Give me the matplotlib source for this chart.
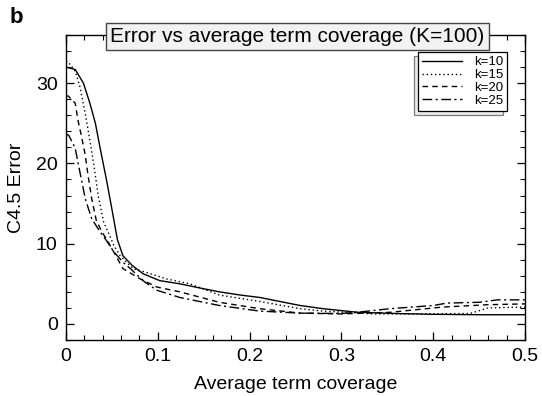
import matplotlib
matplotlib.use("Agg")
import matplotlib.pyplot as plt
from matplotlib.ticker import MultipleLocator, FuncFormatter

plt.rcParams['font.family'] = ['Liberation Sans', 'DejaVu Sans']

# values
x_k10 = [0, 0.01, 0.019, 0.026, 0.032, 0.037, 0.044, 0.05, 0.056, 0.062, 0.072, 0.084,
         0.102, 0.124, 0.145, 0.167, 0.19, 0.211, 0.233, 0.255, 0.28, 0.317, 0.36, 0.4, 0.45, 0.5]
y_k10 = [32.0, 31.7, 30.0, 27.5, 25.0, 22.0, 18.0, 14.3, 10.5, 8.5, 7.3, 6.25,
         5.4, 5.0, 4.5, 4.0, 3.6, 3.3, 2.8, 2.3, 1.9, 1.46, 1.3, 1.2, 1.15, 1.15]

x_k15 = [0, 0.002, 0.01, 0.015, 0.021, 0.028, 0.032, 0.035, 0.041, 0.048, 0.052, 0.059, 0.073,
         0.088, 0.11, 0.135, 0.167, 0.211, 0.255, 0.28, 0.335, 0.39, 0.44, 0.46, 0.5]
y_k15 = [32.7, 32.7, 31.5, 29.6, 26.2, 21.5, 18.5, 16.0, 12.7, 10.9, 9.8, 8.5, 6.9,
         6.4, 5.6, 5.0, 3.6, 2.8, 1.9, 1.6, 1.25, 1.25, 1.3, 2.0, 2.1]

x_k20 = [0, 0.0025, 0.01, 0.013, 0.017, 0.021, 0.024, 0.028, 0.033, 0.039, 0.046, 0.062, 0.081,
         0.099, 0.124, 0.167, 0.211, 0.255, 0.3, 0.353, 0.41, 0.46, 0.5]
y_k20 = [28.4, 28.4, 27.5, 25.4, 23.3, 21.0, 18.5, 15.6, 12.9, 11.5, 10.2, 6.9, 5.6,
         4.6, 4.0, 2.7, 1.9, 1.35, 1.25, 1.45, 2.1, 2.4, 2.5]

x_k25 = [0, 0.003, 0.01, 0.015, 0.021, 0.028, 0.037, 0.044, 0.052, 0.062, 0.07, 0.085, 0.099,
         0.124, 0.167, 0.211, 0.255, 0.3, 0.325, 0.353, 0.4, 0.415, 0.45, 0.47, 0.5]
y_k25 = [23.7, 23.5, 21.9, 19.0, 15.6, 13.1, 11.5, 10.4, 9.0, 7.7, 6.9, 5.3, 4.2,
         3.3, 2.3, 1.6, 1.35, 1.3, 1.55, 1.9, 2.3, 2.6, 2.7, 3.0, 3.0]

labels = ["k=10", "k=15", "k=20", "k=25"]

fig = plt.figure(figsize=(5.42, 3.96), dpi=100)
ax = fig.add_axes([0.1218, 0.1414, 0.8468, 0.7702])

ax.plot(x_k10, y_k10, color='black', lw=1.0, ls='-', label=labels[0])
ax.plot(x_k15, y_k15, color='black', lw=1.0, ls=(0, (1, 2)), label=labels[1])
ax.plot(x_k20, y_k20, color='black', lw=1.0, ls=(0, (4, 3)), label=labels[2])
ax.plot(x_k25, y_k25, color='black', lw=1.0, ls=(0, (7, 2.5, 1.5, 2.5)), label=labels[3])

ax.set_xlim(0, 0.5)
ax.set_ylim(-2, 36)
ax.xaxis.set_major_locator(MultipleLocator(0.1))
ax.xaxis.set_minor_locator(MultipleLocator(0.02))
ax.yaxis.set_major_locator(MultipleLocator(10))
ax.yaxis.set_minor_locator(MultipleLocator(2))
ax.xaxis.set_major_formatter(FuncFormatter(lambda v, p: "0" if abs(v) < 1e-9 else f"{v:g}"))
ax.tick_params(which='both', direction='in', top=True, right=True, labelsize=14, pad=6)
ax.tick_params(which='major', length=6, width=0.9)
ax.tick_params(which='minor', length=3.5, width=0.8)
for s in ax.spines.values():
    s.set_linewidth(1.0)

ax.set_xlabel("Average term coverage", fontsize=14, labelpad=8)
ax.set_ylabel("C4.5 Error", fontsize=14, labelpad=8)

# boxed title sitting on the top spine
ax.text(0.549, 0.907, "Error vs average term coverage (K=100)", transform=fig.transFigure,
        ha='center', va='center', fontsize=15, zorder=10,
        bbox=dict(boxstyle='square,pad=0.2', facecolor='#f2f2f2', edgecolor='#444444', lw=1.0))

leg = ax.legend(loc='upper right', bbox_to_anchor=(0.961, 0.944), fontsize=9.5, frameon=True,
                fancybox=False, handlelength=3.0, handletextpad=0.9, borderpad=0.3,
                labelspacing=0.05, borderaxespad=0.0,
                shadow={'ox': -3, 'oy': -3, 'facecolor': '#d8d8d8', 'edgecolor': 'black', 'lw': 0.9})
leg.get_frame().set_edgecolor('black')
leg.get_frame().set_linewidth(0.9)

fig.text(0.018, 0.955, "b", fontsize=16, fontweight='bold', ha='left', va='center')

fig.savefig("out.png", dpi=100)
